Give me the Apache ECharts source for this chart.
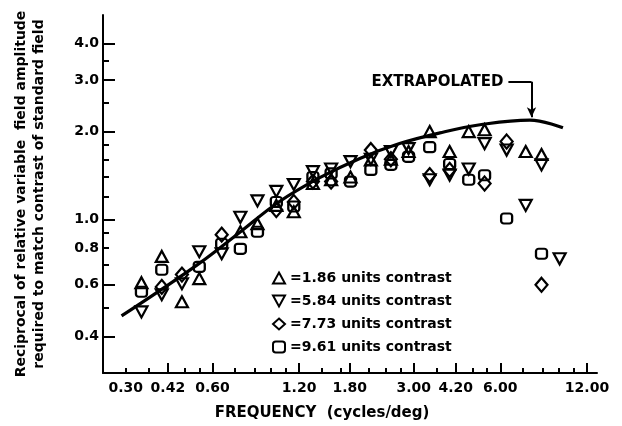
<!DOCTYPE html>
<html>
<head>
<meta charset="UTF-8">
<title>Reciprocal amplitude vs frequency</title>
<script src="https://cdn.jsdelivr.net/npm/echarts@6/dist/echarts.min.js"></script>
<style>
    html, body { margin: 0; padding: 0; background: #fff; }
    #chart { width: 622px; height: 426px; }
</style>
</head>
<body>
<div id="chart"></div>
<script type="text/javascript">
    // tick / label values
    let xLabels = [0.30, 0.42, 0.60, 1.20, 1.80, 3.00, 4.20, 6.00, 12.00];
    let xMajorTicks = [0.42, 0.60, 1.20, 1.80, 3.00, 4.20, 6.00, 12.00];
    let xMinorTicks = [0.30, 0.36, 0.48, 0.54, 0.72, 0.84, 0.96, 1.08, 1.44, 1.68, 2.1, 2.4, 2.7, 3.6, 4.8, 5.4, 7.2, 8.4, 9.6, 10.8];
    let yLabels = [0.4, 0.6, 0.8, 1.0, 2.0, 3.0, 4.0];
    let yMajorTicks = [0.4, 0.6, 1.0, 2.0, 3.0, 4.0];
    let yMinorTicks = [0.5, 0.7, 0.8, 0.9, 1.2, 1.4, 1.6, 1.8, 2.5, 3.5];

    // contrast levels (legend)
    let contrasts = ['1.86', '5.84', '7.73', '9.61'];

    // 1.86 units contrast (triangle up)
    let triFreq = [0.34, 0.40, 0.47, 0.54, 0.75, 0.86, 1.0, 1.15, 1.34, 1.55, 1.81, 2.13, 2.5, 2.88, 3.41, 4.0, 4.66, 5.29, 7.35, 8.34];
    let triVal = [0.61, 0.75, 0.525, 0.63, 0.91, 0.97, 1.12, 1.065, 1.33, 1.37, 1.40, 1.60, 1.61, 1.71, 2.00, 1.71, 2.00, 2.03, 1.71, 1.67];
    // 5.84 units contrast (triangle down)
    let invFreq = [0.34, 0.40, 0.47, 0.54, 0.646, 0.75, 0.86, 1.0, 1.15, 1.34, 1.55, 1.81, 2.13, 2.5, 2.88, 3.41, 4.0, 4.66, 5.29, 6.31, 7.35, 8.34, 9.64];
    let invVal = [0.485, 0.555, 0.605, 0.778, 0.766, 1.02, 1.16, 1.25, 1.32, 1.46, 1.49, 1.58, 1.61, 1.71, 1.75, 1.37, 1.42, 1.49, 1.82, 1.73, 1.12, 1.54, 0.736];
    // 7.73 units contrast (diamond)
    let diaFreq = [0.40, 0.47, 0.646, 1.0, 1.15, 1.34, 1.55, 2.13, 2.5, 3.41, 4.0, 5.29, 6.31, 8.34];
    let diaVal = [0.59, 0.65, 0.89, 1.08, 1.15, 1.35, 1.35, 1.73, 1.61, 1.42, 1.48, 1.33, 1.85, 0.60];
    // 9.61 units contrast (square)
    let sqFreq = [0.34, 0.40, 0.54, 0.646, 0.75, 0.86, 1.0, 1.15, 1.34, 1.55, 1.81, 2.13, 2.5, 2.88, 3.41, 4.0, 4.66, 5.29, 6.31, 8.34];
    let sqVal = [0.568, 0.675, 0.691, 0.828, 0.796, 0.91, 1.15, 1.11, 1.40, 1.44, 1.35, 1.48, 1.54, 1.64, 1.77, 1.55, 1.37, 1.42, 1.01, 0.766];

    // fitted curve (extrapolated at the high end)
    let curveFreq = [0.29, 0.39, 0.54, 0.74, 1.02, 1.41, 1.95, 2.68, 3.7, 5.1, 7.6, 9.9];
    let curveVal = [0.47, 0.57, 0.71, 0.90, 1.15, 1.39, 1.62, 1.82, 1.98, 2.11, 2.19, 2.06];

    // annotation anchor points (data space)
    let noteFreq = [6.4, 7.7];
    let noteVal = [2.96, 2.24];

    function zip(xs, ys) {
        let out = [];
        for (let i = 0; i < xs.length; i++) {
            out.push([xs[i], ys[i]]);
        }
        return out;
    }

    let downTri = 'path://M0,0L10,0L5,9Z';
    let font = 'DejaVu Sans';
    let markerStyle = {color: 'rgba(0,0,0,0)', borderColor: '#000', borderWidth: 2.2, opacity: 1};

    let chart = echarts.init(document.getElementById('chart'));
    let option = {
        backgroundColor: '#fff',
        animation: false,
        textStyle: {fontFamily: font, color: '#000'},
        grid: {left: 103, right: 25, top: 15, bottom: 53, containLabel: false, outerBoundsMode: 'none'},
        legend: {
            orient: 'vertical',
            left: 267,
            top: 266,
            itemWidth: 12,
            itemHeight: 11,
            itemGap: 9,
            selectedMode: false,
            formatter: function (name) {
                return '=' + name + ' units contrast';
            },
            textStyle: {fontFamily: font, fontSize: 14, fontWeight: 'bold', color: '#000'},
            data: [
                {name: contrasts[0], icon: 'triangle'},
                {name: contrasts[1], icon: downTri},
                {name: contrasts[2], icon: 'diamond'},
                {name: contrasts[3], icon: 'roundRect'}
            ]
        },
        xAxis: [
            {
                type: 'log',
                min: 0.25,
                max: 13,
                position: 'bottom',
                name: 'FREQUENCY  (cycles/deg)',
                nameLocation: 'middle',
                nameGap: 33,
                nameTextStyle: {fontFamily: font, fontSize: 15, fontWeight: 'bold', color: '#000', padding: [0, 56, 0, 0]},
                axisLine: {lineStyle: {color: '#000', width: 2}},
                axisTick: {inside: true, length: 10, customValues: xMajorTicks, lineStyle: {color: '#000', width: 2}},
                axisLabel: {
                    customValues: xLabels,
                    margin: 8,
                    fontFamily: font,
                    fontSize: 14,
                    fontWeight: 'bold',
                    color: '#000',
                    formatter: function (v) {
                        return v.toFixed(2);
                    }
                },
                splitLine: {show: false},
                minorTick: {show: false}
            },
            {
                type: 'log',
                min: 0.25,
                max: 13,
                position: 'bottom',
                axisLine: {show: false},
                axisTick: {inside: true, length: 5, customValues: xMinorTicks, lineStyle: {color: '#000', width: 2}},
                axisLabel: {show: false},
                splitLine: {show: false}
            }
        ],
        yAxis: [
            {
                type: 'log',
                min: 0.3,
                max: 5,
                position: 'left',
                name: 'Reciprocal of relative variable  field amplitude\nrequired to match contrast of standard field',
                nameLocation: 'middle',
                nameRotate: 90,
                nameGap: 55,
                nameTextStyle: {fontFamily: font, fontSize: 14, fontWeight: 'bold', color: '#000', lineHeight: 18},
                axisLine: {lineStyle: {color: '#000', width: 2}},
                axisTick: {inside: true, length: 12, customValues: yMajorTicks, lineStyle: {color: '#000', width: 2}},
                axisLabel: {
                    customValues: yLabels,
                    margin: 4,
                    fontFamily: font,
                    fontSize: 14,
                    fontWeight: 'bold',
                    color: '#000',
                    formatter: function (v) {
                        return v.toFixed(1);
                    }
                },
                splitLine: {show: false},
                minorTick: {show: false}
            },
            {
                type: 'log',
                min: 0.3,
                max: 5,
                position: 'left',
                axisLine: {show: false},
                axisTick: {inside: true, length: 6, customValues: yMinorTicks, lineStyle: {color: '#000', width: 2}},
                axisLabel: {show: false},
                splitLine: {show: false}
            }
        ],
        series: [
            {
                name: 'curve',
                type: 'line',
                smooth: 0.4,
                symbol: 'none',
                z: 1,
                lineStyle: {color: '#000', width: 3.2},
                data: zip(curveFreq, curveVal),
                markLine: {
                    silent: true,
                    animation: false,
                    symbol: ['none', 'none'],
                    lineStyle: {color: '#000', width: 2, type: 'solid'},
                    label: {show: false},
                    emphasis: {disabled: true},
                    data: [
                        [
                            {
                                coord: [noteFreq[0], noteVal[0]],
                                label: {
                                    show: true,
                                    position: 'start',
                                    distance: 5,
                                    formatter: 'EXTRAPOLATED',
                                    fontFamily: font,
                                    fontSize: 15,
                                    fontWeight: 'bold',
                                    color: '#000'
                                }
                            },
                            {coord: [noteFreq[1], noteVal[0]]}
                        ],
                        [
                            {coord: [noteFreq[1], noteVal[0]]},
                            {coord: [noteFreq[1], noteVal[1]], symbol: 'arrow', symbolSize: [7, 10]}
                        ]
                    ]
                }
            },
            {
                name: contrasts[0],
                type: 'scatter',
                symbol: 'triangle',
                symbolSize: [12, 11],
                z: 2,
                itemStyle: markerStyle,
                data: zip(triFreq, triVal)
            },
            {
                name: contrasts[1],
                type: 'scatter',
                symbol: downTri,
                symbolSize: [12, 11],
                z: 2,
                itemStyle: markerStyle,
                data: zip(invFreq, invVal)
            },
            {
                name: contrasts[2],
                type: 'scatter',
                symbol: 'diamond',
                symbolSize: [12, 14],
                z: 2,
                itemStyle: markerStyle,
                data: zip(diaFreq, diaVal)
            },
            {
                name: contrasts[3],
                type: 'scatter',
                symbol: 'roundRect',
                symbolSize: [11, 10],
                z: 2,
                itemStyle: markerStyle,
                data: zip(sqFreq, sqVal)
            }
        ]
    };
    chart.setOption(option);
</script>
</body>
</html>
